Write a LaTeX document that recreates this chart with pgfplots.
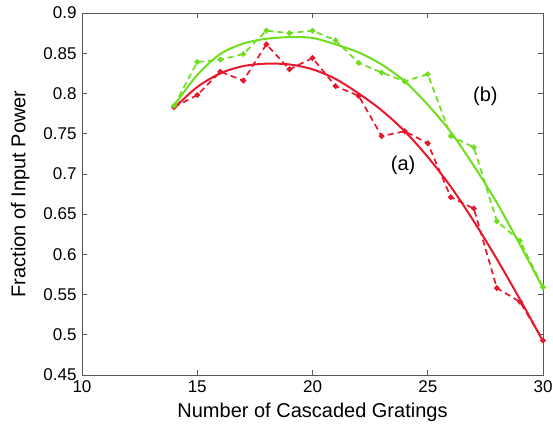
\documentclass[border=0pt]{standalone}
\usepackage{fontspec}
\setmainfont{Liberation Sans}
\usepackage{pgfplots}
\pgfplotsset{compat=1.18}
\definecolor{myred}{RGB}{232,24,44}
\definecolor{mygreen}{RGB}{110,222,30}
\begin{document}
\begin{tikzpicture}
\useasboundingbox (-82pt,-55pt) rectangle (471pt,375pt);
\begin{axis}[
  at={(0pt,0pt)}, anchor=south west,
  scale only axis, width=461pt, height=362pt,
  xmin=10, xmax=30, ymin=0.45, ymax=0.9,
  xtick={10,15,20,25,30},
  ytick={0.45,0.5,0.55,0.6,0.65,0.7,0.75,0.8,0.85,0.9},
  yticklabels={0.45,0.5,0.55,0.6,0.65,0.7,0.75,0.8,0.85,0.9},
  xticklabels={10,15,20,25,30},
  tick align=inside, major tick length=5pt,
  axis line style={gray!70!black, line width=0.6pt},
  tick style={gray!70!black, line width=0.6pt},
  ticklabel style={font=\fontsize{17}{19}\selectfont},
  xlabel={Number of Cascaded Gratings},
  ylabel={Fraction of Input Power},
  label style={font=\fontsize{20}{22}\selectfont},
  xlabel style={at={(0.5,0)}, anchor=north, yshift=-24pt},
  ylabel style={at={(0,0.5)}, anchor=south, yshift=49pt},
  xticklabel style={yshift=-2pt},
  yticklabel style={xshift=-2pt},
  clip=false,
]
% red dashed (measured)
\addplot[myred, dash pattern=on 6pt off 4pt, line width=1.7pt, mark=*, mark size=1.9pt, mark options={solid}] coordinates {
(14,0.783) (15,0.798) (16,0.827) (17,0.816) (18,0.861) (19,0.830) (20,0.844)
(21,0.809) (22,0.797) (23,0.747) (24,0.753) (25,0.738) (26,0.671) (27,0.657)
(28,0.558) (29,0.541) (30,0.493)};
% green dashed (measured)
\addplot[mygreen, dash pattern=on 6pt off 4pt, line width=1.7pt, mark=*, mark size=1.9pt, mark options={solid}] coordinates {
(14,0.785) (15,0.839) (16,0.842) (17,0.849) (18,0.878) (19,0.875) (20,0.878)
(21,0.866) (22,0.838) (23,0.826) (24,0.815) (25,0.824) (26,0.747) (27,0.733)
(28,0.641) (29,0.617) (30,0.559)};
% red solid (fit)
\addplot[myred, line width=2pt, smooth] coordinates {
(14,0.782) (15,0.808) (16,0.825) (17,0.834) (18,0.837) (19,0.836) (20,0.830)
(21,0.818) (22,0.800) (23,0.779) (24,0.753) (25,0.721) (26,0.684) (27,0.641)
(28,0.594) (29,0.544) (30,0.492)};
% green solid (fit)
\addplot[mygreen, line width=2pt, smooth] coordinates {
(14,0.785) (15,0.823) (16,0.849) (17,0.862) (18,0.868) (19,0.870) (20,0.869)
(21,0.861) (22,0.851) (23,0.836) (24,0.815) (25,0.786) (26,0.752) (27,0.710)
(28,0.664) (29,0.612) (30,0.558)};
\node[font=\fontsize{20}{22}\selectfont] at (axis cs:23.93,0.711) {(a)};
\node[font=\fontsize{20}{22}\selectfont] at (axis cs:27.5,0.796) {(b)};
\end{axis}
\end{tikzpicture}
\end{document}
